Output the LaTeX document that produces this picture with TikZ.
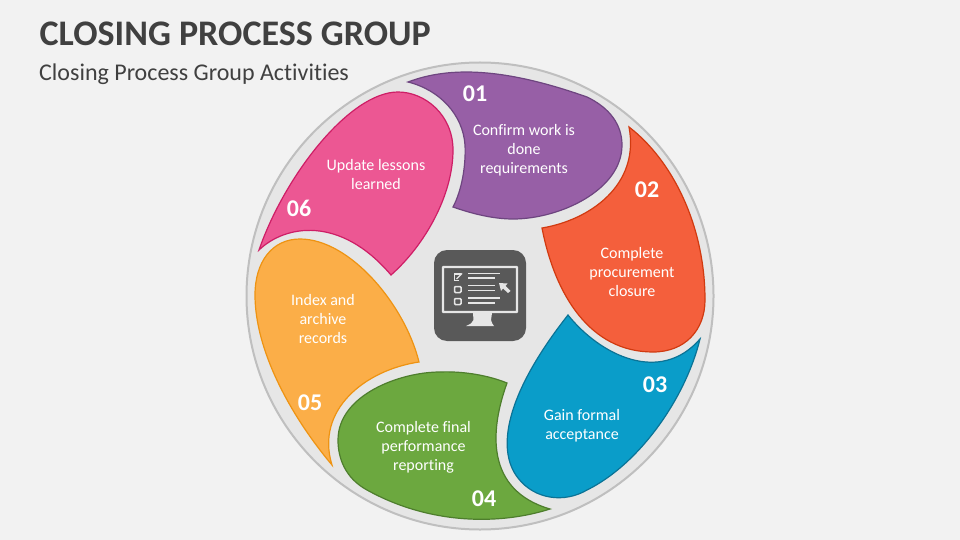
\documentclass[tikz,border=0pt]{standalone}
\usepackage{fontspec}
\setmainfont{Carlito}[Ligatures=CommonOff]
\definecolor{bgc}{HTML}{F2F2F2}
\definecolor{disc}{HTML}{E6E6E6}
\definecolor{discl}{HTML}{BFBFBF}
\definecolor{titlec}{HTML}{404040}
\definecolor{icon}{HTML}{595959}
\definecolor{pu}{HTML}{975FA6}\definecolor{pul}{HTML}{6E4580}
\definecolor{orf}{HTML}{F45F3C}\definecolor{orl}{HTML}{D13A10}
\definecolor{blf}{HTML}{0A9DC9}\definecolor{bll}{HTML}{0B7396}
\definecolor{grf}{HTML}{6CA83F}\definecolor{grl}{HTML}{4E7E2D}
\definecolor{yef}{HTML}{FBAE48}\definecolor{yel}{HTML}{EE9312}
\definecolor{pif}{HTML}{EC5793}\definecolor{pil}{HTML}{CE1E66}
\tikzset{
 x=1pt,y=-1pt,
 petal/.style={line width=1.2pt,line join=miter},
 lab/.style={text=white,align=center,font=\fontsize{16}{19}\selectfont,inner sep=0pt},
 num/.style={text=white,font=\bfseries\fontsize{24}{26}\selectfont,inner sep=0pt},
 iconline/.style={draw=disc,line width=1.2pt},
 iconbox/.style={draw=disc,line width=1.5pt,rounded corners=1pt},
}
\begin{document}
\begin{tikzpicture}
\useasboundingbox (0,0) rectangle (960,540);
\fill[bgc] (0,0) rectangle (960,540);
\node[anchor=west,text=titlec,font=\bfseries\fontsize{36}{40}\selectfont,inner sep=0pt] (title) at (39.5,34) {CLOSING PROCESS GROUP};
\node[anchor=west,text=titlec,font=\fontsize{24}{28}\selectfont,inner sep=0pt] (subtitle) at (39,74) {Closing Process Group Activities};
\draw[fill=disc,draw=discl,line width=2pt] (480,296) circle (233.5);
% 01
\draw[petal,fill=pu,draw=pul] (408,82) .. controls (450,66) and (505,68) .. (587,97)
 .. controls (610,108) and (622,125) .. (622,145)
 .. controls (622,190) and (560,219) .. (513,219)
 .. controls (492,219) and (470,213) .. (453,207)
 .. controls (462,190) and (466,165) .. (465,145)
 .. controls (463,115) and (440,90) .. (408,82) -- cycle;
% 02
\draw[petal,fill=orf,draw=orl] (629,127) .. controls (672,160) and (705,225) .. (705,300)
 .. controls (705,330) and (685,352) .. (653,352)
 .. controls (590,352) and (555,295) .. (542,228)
 .. controls (590,220) and (640,185) .. (629,127) -- cycle;
% 03
\draw[petal,fill=blf,draw=bll] (700,339) .. controls (685,400) and (638,465) .. (587,490)
 .. controls (565,503) and (535,500) .. (518,478)
 .. controls (496,450) and (505,395) .. (568,315)
 .. controls (600,355) and (660,385) .. (700,339) -- cycle;
% 04
\draw[petal,fill=grf,draw=grl] (550,509) .. controls (500,525) and (430,525) .. (367,490)
 .. controls (345,478) and (338,458) .. (338,440)
 .. controls (338,395) and (400,372) .. (440,372)
 .. controls (465,371) and (490,376) .. (507,383)
 .. controls (490,430) and (485,490) .. (550,509) -- cycle;
% 05
\draw[petal,fill=yef,draw=yel] (332,465) .. controls (290,415) and (255,350) .. (255,295)
 .. controls (255,262) and (272,239) .. (300,239)
 .. controls (350,239) and (405,305) .. (419,362)
 .. controls (365,370) and (315,410) .. (332,465) -- cycle;
% 06
\draw[petal,fill=pif,draw=pil] (391,275) .. controls (425,245) and (453,195) .. (453,150)
 .. controls (453,115) and (425,92) .. (398,92)
 .. controls (350,92) and (285,175) .. (259,250)
 .. controls (285,225) and (340,215) .. (391,275) -- cycle;
% numbers
\node[num] (n1) at (475,93.5) {01};
\node[num] (n2) at (647,190) {02};
\node[num] (n3) at (655,385) {03};
\node[num] (n4) at (484,498.5) {04};
\node[num] (n5) at (310,402.5) {05};
\node[num] (n6) at (299,208) {06};
% labels
\node[lab] (l1) at (524,150.5) {Confirm work is\\done\\requirements};
\node[lab] (l2) at (632,272.5) {Complete\\procurement\\closure};
\node[lab] (l3) at (582,425.5) {Gain formal\\acceptance};
\node[lab] (l4) at (423.5,447) {Complete final\\performance\\reporting};
\node[lab] (l5) at (323,319.5) {Index and\\archive\\records};
\node[lab] (l6) at (376,175) {Update lessons\\learned};
% icon
\fill[icon,rounded corners=13pt] (434,250) rectangle (526,341);
\draw[draw=disc,line width=2.4pt,rounded corners=.5pt] (443,267) rectangle (517,312);
\fill[disc] (473,313) -- (492,313) -- (491,320) .. controls (491.5,323) and (493,324.5) .. (494,326) -- (466,326) .. controls (470,324) and (473,323) .. (473.5,320) -- cycle;
\draw[iconline] (468,273.3) -- (500,273.3);
\draw[iconline] (468,278) -- (495,278);
\draw[iconline] (468,285.7) -- (495,285.7);
\draw[iconline] (468,290.7) -- (495,290.7);
\draw[iconline] (468,298) -- (500,298);
\draw[iconline] (468,303) -- (495,303);
\draw[iconbox] (454.5,286.5) rectangle (461,292.5);
\draw[iconbox] (454.5,298.5) rectangle (461,304.5);
\draw[draw=disc,line width=1.4pt] (461,274) -- (454.5,274) -- (454.5,280.5) -- (459,280.5);
\draw[draw=disc,line width=1.4pt] (456.5,279) -- (462,273.5);
\fill[disc] (499,283) -- (507.5,283.5) -- (505.5,286) -- (510.5,291) -- (508,293) -- (503,288.5) -- (501,291) -- cycle;
\end{tikzpicture}
\end{document}
